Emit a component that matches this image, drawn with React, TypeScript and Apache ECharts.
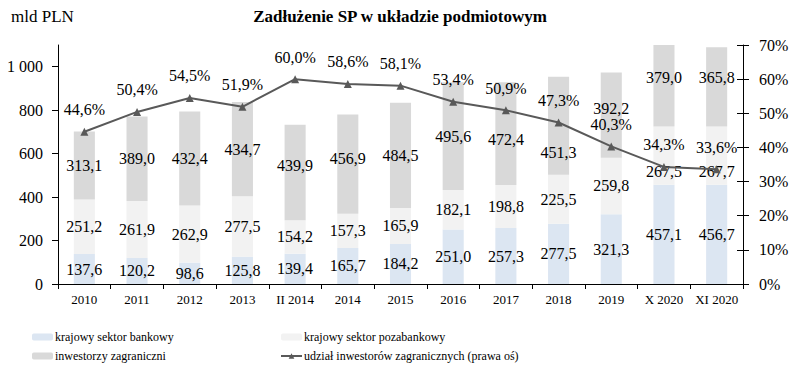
import React, { useEffect, useRef } from "react";
import * as echarts from "echarts";

const categories = ["2010", "2011", "2012", "2013", "II 2014", "2014", "2015", "2016", "2017", "2018", "2019", "X 2020", "XI 2020"];
const bankowy = [137.6, 120.2, 98.6, 125.8, 139.4, 165.7, 184.2, 251.0, 257.3, 277.5, 321.3, 457.1, 456.7];
const pozabankowy = [251.2, 261.9, 262.9, 277.5, 154.2, 157.3, 165.9, 182.1, 198.8, 225.5, 259.8, 267.5, 267.7];
const zagraniczni = [313.1, 389.0, 432.4, 434.7, 439.9, 456.9, 484.5, 495.6, 472.4, 451.3, 392.2, 379.0, 365.8];
const udzial = [44.6, 50.4, 54.5, 51.9, 60.0, 58.6, 58.1, 53.4, 50.9, 47.3, 40.3, 34.3, 33.6];

// vertical nudges of some value labels (px), as placed in the reference
const shiftPozabankowy: Record<number, number> = { 11: 16, 12: 16 };
const shiftZagraniczni: Record<number, number> = { 4: -7, 5: -6, 8: 6, 9: 27, 10: -7, 11: -8, 12: -9 };

const FONT = "'Liberation Serif', 'Times New Roman', serif";
const fmt = (v: number) => v.toFixed(1).replace(".", ",");

const withShift = (vals: number[], shift: Record<number, number>) =>
  vals.map((v, i) => (shift[i] ? { value: v, label: { offset: [0, shift[i]] } } : v));

export default function App() {
  const ref = useRef<HTMLDivElement>(null);
  useEffect(() => {
    if (!ref.current) return;
    const chart = echarts.init(ref.current, null, { renderer: "svg" });
    const barLabel = {
      show: true,
      position: "inside" as const,
      color: "#000",
      fontFamily: FONT,
      fontSize: 16,
      formatter: (p: any) => fmt(p.value),
    };
    const legendText = { fontFamily: FONT, fontSize: 12, color: "#000", padding: [0, 0, 0, -3] };
    chart.setOption({
      animation: false,
      textStyle: { fontFamily: FONT },
      title: {
        text: "Zadłużenie SP w układzie podmiotowym",
        left: 400,
        textAlign: "center",
        top: 8,
        padding: 0,
        textStyle: { fontFamily: FONT, fontSize: 17, fontWeight: "bold", color: "#000" },
      },
      graphic: [
        {
          type: "text",
          left: 11,
          top: 8,
          style: { text: "mld PLN", font: `17px ${FONT}`, fill: "#000" },
        },
      ],
      legend: [
        {
          orient: "vertical",
          left: 32,
          top: 331,
          padding: 0,
          itemWidth: 21,
          itemHeight: 7,
          itemGap: 7,
          textStyle: legendText,
          data: ["krajowy sektor bankowy", "inwestorzy zagraniczni"],
        },
        {
          orient: "vertical",
          left: 280,
          top: 331,
          padding: 0,
          itemWidth: 21,
          itemHeight: 7,
          itemGap: 7,
          textStyle: legendText,
          data: ["krajowy sektor pozabankowy", "udział inwestorów zagranicznych (prawa oś)"],
        },
      ],
      grid: { left: 58, right: 62, top: 45, bottom: 102 },
      xAxis: {
        type: "category",
        data: categories,
        axisLine: { lineStyle: { color: "#000" } },
        axisTick: { show: true, length: 5, lineStyle: { color: "#000" } },
        axisLabel: { color: "#000", fontFamily: FONT, fontSize: 13, margin: 9, interval: 0, hideOverlap: false },
      },
      yAxis: [
        {
          type: "value",
          min: 0,
          max: 1100,
          interval: 200,
          axisLine: { show: true, lineStyle: { color: "#000" } },
          axisTick: { show: true, length: 6, lineStyle: { color: "#000" } },
          splitLine: { show: false },
          axisLabel: {
            color: "#000",
            fontFamily: FONT,
            fontSize: 16,
            margin: 15,
            formatter: (v: number) => (v >= 1000 ? "1 000" : String(v)),
            showMaxLabel: false,
          },
        },
        {
          type: "value",
          position: "right",
          min: 0,
          max: 70,
          interval: 10,
          axisLine: { show: true, lineStyle: { color: "#000" } },
          axisTick: { show: true, length: 6, lineStyle: { color: "#000" } },
          splitLine: { show: false },
          axisLabel: { color: "#000", fontFamily: FONT, fontSize: 16, margin: 16, formatter: (v: number) => v + "%" },
        },
        {
          type: "value",
          position: "right",
          min: 0,
          max: 70,
          interval: 10,
          axisLine: { show: false },
          axisTick: { show: true, inside: true, length: 6, lineStyle: { color: "#000" } },
          splitLine: { show: false },
          axisLabel: { show: false },
        },
      ],
      series: [
        {
          name: "krajowy sektor bankowy",
          type: "bar",
          stack: "a",
          barWidth: "40%",
          itemStyle: { color: "#dce6f2" },
          label: barLabel,
          data: bankowy,
        },
        {
          name: "krajowy sektor pozabankowy",
          type: "bar",
          stack: "a",
          barWidth: "40%",
          itemStyle: { color: "#f2f2f2" },
          label: barLabel,
          data: withShift(pozabankowy, shiftPozabankowy),
        },
        {
          name: "inwestorzy zagraniczni",
          type: "bar",
          stack: "a",
          barWidth: "40%",
          itemStyle: { color: "#d9d9d9" },
          label: barLabel,
          data: withShift(zagraniczni, shiftZagraniczni),
        },
        {
          name: "udział inwestorów zagranicznych (prawa oś)",
          type: "line",
          yAxisIndex: 1,
          symbol: "triangle",
          symbolSize: 8,
          lineStyle: { color: "#595959", width: 2 },
          itemStyle: { color: "#595959" },
          label: {
            show: true,
            position: "top",
            distance: 10,
            color: "#000",
            fontFamily: FONT,
            fontSize: 16,
            formatter: (p: any) => fmt(p.value) + "%",
          },
          z: 5,
          data: udzial,
        },
      ],
    });
    return () => chart.dispose();
  }, []);
  return <div ref={ref} style={{ width: 805, height: 386, position: "absolute", left: 0, top: 0 }} />;
}
